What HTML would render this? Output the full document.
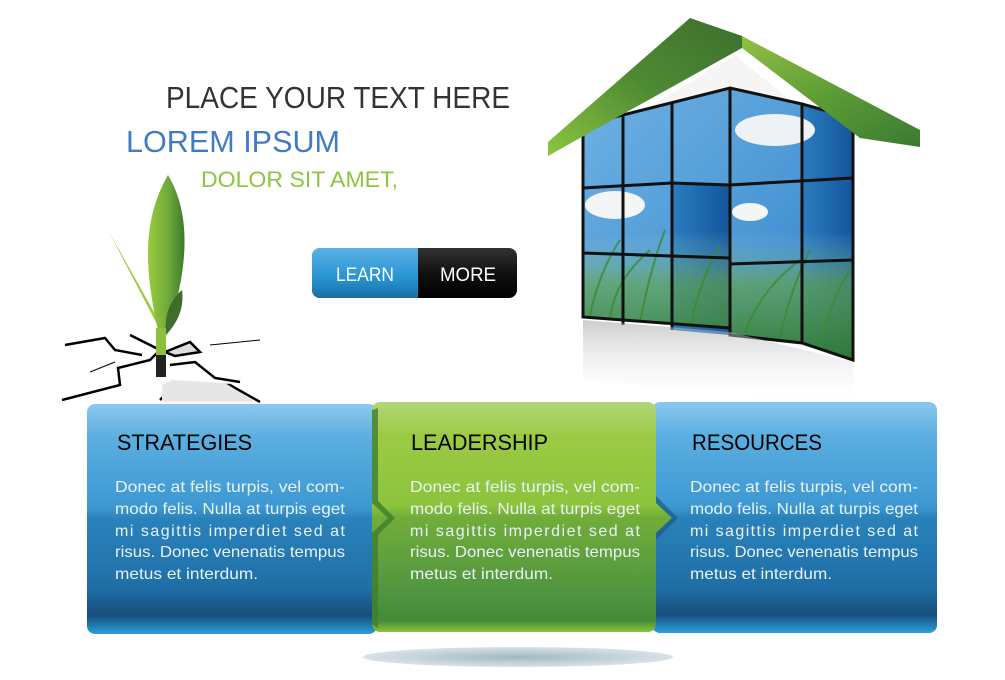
<!DOCTYPE html>
<html><head><meta charset="utf-8"><style>
html,body{margin:0;padding:0;background:#fff;}
svg{display:block;}
text{font-family:"Liberation Sans",sans-serif;}
</style></head><body>
<svg width="1005" height="680" viewBox="0 0 1005 680" xmlns="http://www.w3.org/2000/svg">
<defs>
<linearGradient id="bl" x1="0" y1="0" x2="0" y2="1">
<stop offset="0" stop-color="#8cc8ee"/><stop offset="0.15" stop-color="#5aaee0"/><stop offset="0.45" stop-color="#3d98d2"/><stop offset="0.5" stop-color="#2a82bb"/><stop offset="0.8" stop-color="#1f6fa6"/><stop offset="0.92" stop-color="#174e7c"/><stop offset="1" stop-color="#2aa0dc"/>
</linearGradient>
<linearGradient id="gr" x1="0" y1="0" x2="0" y2="1">
<stop offset="0" stop-color="#b2d676"/><stop offset="0.15" stop-color="#9cca44"/><stop offset="0.45" stop-color="#8cc43c"/><stop offset="0.5" stop-color="#72ad3a"/><stop offset="0.85" stop-color="#4e9440"/><stop offset="0.95" stop-color="#428a3a"/><stop offset="1" stop-color="#8cc43c"/>
</linearGradient>
<linearGradient id="btnb" x1="0" y1="0" x2="0" y2="1"><stop offset="0" stop-color="#5ab0e6"/><stop offset="0.6" stop-color="#2794d2"/><stop offset="1" stop-color="#1a6ea4"/></linearGradient>
<linearGradient id="btnk" x1="0" y1="0" x2="0" y2="1"><stop offset="0" stop-color="#333"/><stop offset="0.5" stop-color="#111"/><stop offset="1" stop-color="#000"/></linearGradient>
<linearGradient id="sky" x1="0" y1="0" x2="1" y2="1"><stop offset="0" stop-color="#6fb2e4"/><stop offset="0.6" stop-color="#4a96d4"/><stop offset="1" stop-color="#2a72b6"/></linearGradient>
<linearGradient id="skyR" x1="0" y1="0" x2="1" y2="0"><stop offset="0" stop-color="#2a7dbf"/><stop offset="1" stop-color="#14559a"/></linearGradient>
<linearGradient id="grass" x1="0" y1="0" x2="0" y2="1"><stop offset="0" stop-color="#8fc4e8" stop-opacity="0"/><stop offset="0.4" stop-color="#6aa94a" stop-opacity="0.7"/><stop offset="1" stop-color="#2f7a2a"/></linearGradient>
<linearGradient id="roofL" x1="0" y1="1" x2="1" y2="0"><stop offset="0" stop-color="#8cc63f"/><stop offset="0.5" stop-color="#4e8b34"/><stop offset="1" stop-color="#3e6e2c"/></linearGradient>
<linearGradient id="roofR" x1="0" y1="0" x2="1" y2="1"><stop offset="0" stop-color="#a9d04a"/><stop offset="0.6" stop-color="#5c9c36"/><stop offset="1" stop-color="#3b7a30"/></linearGradient>
<linearGradient id="refl" x1="0" y1="0" x2="0" y2="1"><stop offset="0" stop-color="#aaa" stop-opacity="0.6"/><stop offset="1" stop-color="#fff" stop-opacity="0"/></linearGradient>
<linearGradient id="leaf" x1="0" y1="0" x2="1" y2="0"><stop offset="0" stop-color="#9ccc3c"/><stop offset="0.6" stop-color="#6aa63a"/><stop offset="1" stop-color="#3f7a2c"/></linearGradient>
<radialGradient id="sh" cx="0.5" cy="0.5" r="0.5"><stop offset="0" stop-color="#9fb9c1"/><stop offset="1" stop-color="#d8e3e6"/></radialGradient>
</defs>

<text x="166" y="108" font-size="31" fill="#333" textLength="344" lengthAdjust="spacingAndGlyphs">PLACE YOUR TEXT HERE</text>
<text x="126" y="152" font-size="31" fill="#3f7cc4" textLength="214" lengthAdjust="spacingAndGlyphs">LOREM IPSUM</text>
<text x="201" y="187" font-size="22" fill="#8cc63f" textLength="197" lengthAdjust="spacingAndGlyphs">DOLOR SIT AMET,</text>

<rect x="312" y="248" width="205" height="50" rx="8" fill="url(#btnk)"/>
<path d="M320 248 H418 V298 H320 A8 8 0 0 1 312 290 V256 A8 8 0 0 1 320 248Z" fill="url(#btnb)"/>
<text x="336" y="281" font-size="19" fill="#fff" textLength="58" lengthAdjust="spacingAndGlyphs">LEARN</text>
<text x="440" y="281" font-size="19" fill="#fff" textLength="56" lengthAdjust="spacingAndGlyphs">MORE</text>

<g stroke="#000" stroke-width="2.5" fill="none">
<path d="M62 400 L120 385 L118 368 L150 360 L160 350 L130 335"/>
<path d="M160 400 L175 385 L230 385 L260 402"/>
<path d="M165 352 L190 342 L200 352 L175 356 Z" fill="#ddd"/>
<path d="M170 365 L195 362 L215 378 L240 382"/>
<path d="M65 345 L105 338 L115 350 L142 355"/>
<path d="M90 372 L115 362" stroke-width="1"/>
<path d="M210 345 L260 340" stroke-width="1"/>
</g>
<path d="M162 385 L172 380 L225 383 L255 402 L162 402Z" fill="#e6e6e6"/>
<path d="M108 230 L160 330 L164 330 Z" fill="#9ccc3c"/>
<path d="M168 175 C145 215 142 260 158 330 L168 330 C188 270 192 215 168 175Z" fill="url(#leaf)"/>
<path d="M182 290 C170 300 164 315 166 335 C180 320 184 305 182 290Z" fill="#3f6e2a"/>
<rect x="156" y="328" width="10" height="40" fill="#8cc03c"/>
<rect x="156" y="355" width="10" height="22" fill="#222"/>

<g>
<polygon points="596,140 735,55 800,108 802,140" fill="#f5f5f5"/>
<polygon points="583,125 730,88 802,104 853,118 853,360 802,343 730,335 730,328 583,317" fill="url(#sky)"/>
<polygon points="802,104 853,118 853,360 802,343" fill="url(#skyR)"/>
<polygon points="672,183 730,185 730,335 672,330" fill="url(#skyR)"/>
<ellipse cx="775" cy="130" rx="40" ry="16" fill="#eef2f4"/>
<ellipse cx="615" cy="205" rx="30" ry="14" fill="#f4f6f6"/>
<ellipse cx="750" cy="212" rx="18" ry="9" fill="#f4f6f6"/>
<polygon points="583,240 730,230 853,235 853,360 802,343 730,335 730,328 583,317" fill="url(#grass)" opacity="0.9"/>
<g stroke="#3a8a30" stroke-width="2" fill="none" opacity="0.8">
<path d="M590 315 Q600 270 620 240"/><path d="M610 318 Q615 280 650 250"/><path d="M640 322 Q650 270 665 230"/>
<path d="M690 328 Q700 280 720 245"/><path d="M745 333 Q760 290 800 260"/><path d="M780 338 Q790 290 810 250"/><path d="M820 348 Q830 300 850 270"/>
</g>
<g stroke="#111" stroke-width="3" fill="none">
<polygon points="583,125 730,88 802,104 853,118 853,360 802,343 730,335 730,328 583,317"/>
<line x1="623" y1="115" x2="623" y2="325"/><line x1="672" y1="103" x2="672" y2="330"/>
<line x1="730" y1="88" x2="730" y2="335"/><line x1="802" y1="104" x2="802" y2="343"/>
<line x1="583" y1="188" x2="672" y2="183"/><line x1="730" y1="185" x2="853" y2="178"/>
<line x1="672" y1="183" x2="730" y2="185"/>
<line x1="583" y1="253" x2="730" y2="258"/><line x1="730" y1="264" x2="853" y2="260"/>
</g>
<polygon points="583,320 730,332 853,362 853,405 583,380" fill="url(#refl)"/>
<polygon points="548,142 690,18 742,36 742,48 580,138 548,156" fill="url(#roofL)"/>
<polygon points="690,18 742,36 920,130 920,147 860,138 742,48 742,36" fill="url(#roofR)"/>
</g>

<ellipse cx="518" cy="657" rx="155" ry="10" fill="url(#sh)"/>

<rect x="87" y="404" width="290" height="230" rx="8" fill="url(#bl)"/>
<rect x="652" y="402" width="285" height="231" rx="8" fill="url(#bl)"/>
<path d="M380 402 H648 A8 8 0 0 1 656 410 V503 L672 518 L656 533 V624 A8 8 0 0 1 648 632 H380 A8 8 0 0 1 372 624 V410 A8 8 0 0 1 380 402Z" fill="url(#gr)"/>
<path d="M372 410 V503 L388 518 L372 533 V624 L378 628 V535 L395 518 L378 501 V408Z" fill="#3f7e2e" opacity="0.8"/>
<path d="M656 503 L672 518 L656 533 V540 L678 518 L656 496Z" fill="#1d5a88" opacity="0.7"/>

<g font-size="22" fill="#000">
<text x="117" y="450" textLength="135" lengthAdjust="spacingAndGlyphs">STRATEGIES</text>
<text x="411" y="450" textLength="137" lengthAdjust="spacingAndGlyphs">LEADERSHIP</text>
<text x="692" y="450" textLength="130" lengthAdjust="spacingAndGlyphs">RESOURCES</text>
</g>
<g font-size="16" fill="#e8f2f8">
<text x="115" y="492" textLength="230" lengthAdjust="spacingAndGlyphs">Donec at felis turpis, vel com-</text>
<text x="115" y="514" textLength="230" lengthAdjust="spacingAndGlyphs">modo felis. Nulla at turpis eget</text>
<text x="115" y="536" textLength="230" lengthAdjust="spacing">mi sagittis imperdiet sed at</text>
<text x="115" y="557" textLength="230" lengthAdjust="spacingAndGlyphs">risus. Donec venenatis tempus</text>
<text x="115" y="579" textLength="143" lengthAdjust="spacingAndGlyphs">metus et interdum.</text>
<text x="410" y="492" textLength="230" lengthAdjust="spacingAndGlyphs">Donec at felis turpis, vel com-</text>
<text x="410" y="514" textLength="230" lengthAdjust="spacingAndGlyphs">modo felis. Nulla at turpis eget</text>
<text x="410" y="536" textLength="230" lengthAdjust="spacing">mi sagittis imperdiet sed at</text>
<text x="410" y="557" textLength="230" lengthAdjust="spacingAndGlyphs">risus. Donec venenatis tempus</text>
<text x="410" y="579" textLength="143" lengthAdjust="spacingAndGlyphs">metus et interdum.</text>
<text x="690" y="492" textLength="228" lengthAdjust="spacingAndGlyphs">Donec at felis turpis, vel com-</text>
<text x="690" y="514" textLength="228" lengthAdjust="spacingAndGlyphs">modo felis. Nulla at turpis eget</text>
<text x="690" y="536" textLength="228" lengthAdjust="spacing">mi sagittis imperdiet sed at</text>
<text x="690" y="557" textLength="228" lengthAdjust="spacingAndGlyphs">risus. Donec venenatis tempus</text>
<text x="690" y="579" textLength="142" lengthAdjust="spacingAndGlyphs">metus et interdum.</text>
</g>
</svg>
</body></html>
